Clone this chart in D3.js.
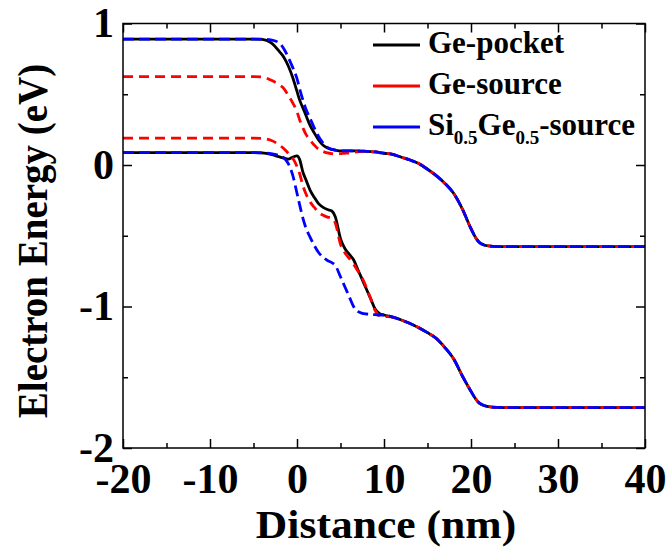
<!DOCTYPE html>
<html><head><meta charset="utf-8">
<script src="https://cdn.jsdelivr.net/npm/d3@7"></script>
<style>html,body{margin:0;padding:0;background:#fff;}svg{display:block;}</style>
</head><body>
<svg id="chart" width="672" height="556"></svg>
<script>
// ---- data ----
const distance = [-20, -5, -4, -3, -2, -1.5, -1, -0.5, 0, 0.3, 0.7, 1, 1.5, 2, 2.5, 3, 3.5, 4, 4.4, 5, 5.5, 6, 6.5, 7, 7.5, 8, 8.5, 9, 9.5, 10, 11, 12, 13, 14, 15, 16, 17, 18, 19, 20, 20.5, 21, 21.5, 22, 23, 25, 40];

// conduction band (upper curves)
const pocketCB = [0.89, 0.89, 0.888, 0.865, 0.80, 0.76, 0.70, 0.62, 0.52, 0.46, 0.40, 0.355, 0.28, 0.225, 0.175, 0.14, 0.12, 0.11, 0.105, 0.10, 0.10, 0.10, 0.10, 0.099, 0.098, 0.097, 0.095, 0.092, 0.088, 0.083, 0.075, 0.055, 0.035, 0.01, -0.03, -0.075, -0.13, -0.20, -0.31, -0.45, -0.51, -0.55, -0.565, -0.572, -0.577, -0.577, -0.577];
const geSourceCB = [0.625, 0.625, 0.622, 0.60, 0.565, 0.54, 0.49, 0.44, 0.377, 0.32, 0.26, 0.22, 0.177, 0.14, 0.11, 0.095, 0.085, 0.08, 0.078, 0.08, 0.083, 0.085, 0.09, 0.093, 0.096, 0.097, 0.095, 0.092, 0.088, 0.083, 0.075, 0.055, 0.035, 0.01, -0.03, -0.075, -0.13, -0.20, -0.31, -0.45, -0.51, -0.55, -0.565, -0.572, -0.577, -0.577, -0.577];
const siGeSourceCB = [0.89, 0.89, 0.89, 0.885, 0.86, 0.82, 0.76, 0.69, 0.61, 0.54, 0.455, 0.40, 0.33, 0.26, 0.20, 0.155, 0.125, 0.11, 0.105, 0.10, 0.10, 0.10, 0.10, 0.099, 0.098, 0.097, 0.095, 0.092, 0.088, 0.083, 0.075, 0.055, 0.035, 0.01, -0.03, -0.075, -0.13, -0.20, -0.31, -0.45, -0.51, -0.55, -0.565, -0.572, -0.577, -0.577, -0.577];

// valence band (lower curves)
const pocketVB = [0.087, 0.087, 0.085, 0.075, 0.057, 0.048, 0.042, 0.055, 0.064, 0.04, -0.055, -0.10, -0.177, -0.23, -0.275, -0.30, -0.315, -0.325, -0.365, -0.52, -0.59, -0.63, -0.67, -0.74, -0.81, -0.88, -0.95, -1.02, -1.05, -1.06, -1.075, -1.095, -1.12, -1.15, -1.185, -1.225, -1.29, -1.37, -1.49, -1.60, -1.65, -1.685, -1.70, -1.708, -1.713, -1.715, -1.715];
const geSourceVB = [0.19, 0.19, 0.188, 0.175, 0.14, 0.115, 0.083, 0.05, -0.01, -0.06, -0.15, -0.20, -0.26, -0.30, -0.335, -0.355, -0.368, -0.377, -0.41, -0.56, -0.62, -0.66, -0.70, -0.75, -0.80, -0.87, -0.95, -1.03, -1.065, -1.07, -1.075, -1.095, -1.12, -1.15, -1.185, -1.225, -1.29, -1.37, -1.49, -1.60, -1.65, -1.685, -1.70, -1.708, -1.713, -1.715, -1.715];
const siGeSourceVB = [0.087, 0.087, 0.085, 0.08, 0.065, 0.05, 0.01, -0.07, -0.20, -0.28, -0.38, -0.44, -0.51, -0.57, -0.62, -0.65, -0.675, -0.69, -0.71, -0.79, -0.86, -0.93, -1.0, -1.035, -1.048, -1.053, -1.056, -1.058, -1.06, -1.06, -1.075, -1.095, -1.12, -1.15, -1.185, -1.225, -1.29, -1.37, -1.49, -1.60, -1.65, -1.685, -1.70, -1.708, -1.713, -1.715, -1.715];

const seriesNames = ["Ge-pocket", "Ge-source", "Si0.5Ge0.5-source"];
const seriesColors = ["#000000", "#ff0000", "#0000ff"];
const xTicks = [-20, -10, 0, 10, 20, 30, 40];
const yTicks = [-2, -1, 0, 1];
const xMinor = [-15, -5, 5, 15, 25, 35];
const yMinor = [-1.5, -0.5, 0.5];

// ---- layout ----
const L = 123, R = 645, T = 23.5, B = 448;
const svg = d3.select("#chart");
const x = d3.scaleLinear().domain([-20, 40]).range([L, R]);
const y = d3.scaleLinear().domain([-2, 1]).range([B, T]);
const font = "'Liberation Serif','Times New Roman',serif";

const line = d3.line().x(d => x(d[0])).y(d => y(d[1])).curve(d3.curveMonotoneX);
const pairs = vals => distance.map((d, i) => [d, vals[i]]);

const curves = [
  {v: pocketCB, c: 0, dash: null}, {v: pocketVB, c: 0, dash: null},
  {v: geSourceCB, c: 1, dash: "10,6"}, {v: geSourceVB, c: 1, dash: "10,6"},
  {v: siGeSourceCB, c: 2, dash: "11,5"}, {v: siGeSourceVB, c: 2, dash: "11,5"}
];
const plot = svg.append("g");
curves.forEach(cv => {
  plot.append("path").attr("d", line(pairs(cv.v)))
    .attr("fill", "none").attr("stroke", seriesColors[cv.c])
    .attr("stroke-width", 2.8)
    .attr("stroke-dasharray", cv.dash);
});

// frame & ticks (inward, mirrored)
svg.append("rect").attr("x", L).attr("y", T).attr("width", R - L).attr("height", B - T)
  .attr("fill", "none").attr("stroke", "#000").attr("stroke-width", 1.5);

const fmt = d => String(d);
const axB = d3.axisBottom(x).tickValues(xTicks).tickSizeInner(-9).tickSizeOuter(0).tickPadding(15).tickFormat(fmt);
const gB = svg.append("g").attr("transform", `translate(0,${B})`).call(axB);
const axT = d3.axisTop(x).tickValues(xTicks).tickSizeInner(-9).tickSizeOuter(0).tickFormat("");
const gT = svg.append("g").attr("transform", `translate(0,${T})`).call(axT);
const axBm = d3.axisBottom(x).tickValues(xMinor).tickSizeInner(-5).tickSizeOuter(0).tickFormat("");
const gBm = svg.append("g").attr("transform", `translate(0,${B})`).call(axBm);
const axTm = d3.axisTop(x).tickValues(xMinor).tickSizeInner(-5).tickSizeOuter(0).tickFormat("");
const gTm = svg.append("g").attr("transform", `translate(0,${T})`).call(axTm);

const axL = d3.axisLeft(y).tickValues(yTicks).tickSizeInner(-9).tickSizeOuter(0).tickPadding(9).tickFormat(fmt);
const gL = svg.append("g").attr("transform", `translate(${L},0)`).call(axL);
const axR = d3.axisRight(y).tickValues(yTicks).tickSizeInner(-9).tickSizeOuter(0).tickFormat("");
const gR = svg.append("g").attr("transform", `translate(${R},0)`).call(axR);
const axLm = d3.axisLeft(y).tickValues(yMinor).tickSizeInner(-5).tickSizeOuter(0).tickFormat("");
const gLm = svg.append("g").attr("transform", `translate(${L},0)`).call(axLm);
const axRm = d3.axisRight(y).tickValues(yMinor).tickSizeInner(-5).tickSizeOuter(0).tickFormat("");
const gRm = svg.append("g").attr("transform", `translate(${R},0)`).call(axRm);

[gB, gT, gBm, gTm, gL, gR, gLm, gRm].forEach(g => {
  g.select(".domain").remove();
  g.selectAll(".tick line").attr("stroke", "#000").attr("stroke-width", 1.5);
  g.selectAll(".tick text").attr("font-family", font).attr("font-weight", "bold")
    .attr("font-size", 42).attr("fill", "#000");
});

// axis titles
svg.append("g").attr("transform", "translate(386,538) scale(1.09,1)")
  .append("text").attr("text-anchor", "middle").attr("font-family", font).attr("font-weight", "bold")
  .attr("font-size", 40).text("Distance (nm)");
svg.append("g").attr("transform", "translate(47,241) scale(1.1,1) rotate(-90)")
  .append("text").attr("text-anchor", "middle").attr("font-family", font).attr("font-weight", "bold")
  .attr("font-size", 39).text("Electron Energy (eV)");

// legend
const lg = svg.append("g");
const rows = [45, 86, 127];
seriesNames.forEach((name, i) => {
  lg.append("line").attr("x1", 373).attr("x2", 420).attr("y1", rows[i]).attr("y2", rows[i])
    .attr("stroke", seriesColors[i]).attr("stroke-width", 2.8);
  const t = lg.append("text").attr("x", 428).attr("y", rows[i] + 8)
    .attr("font-family", font).attr("font-weight", "bold").attr("font-size", 31);
  if (i === 2) {
    t.append("tspan").text("Si");
    t.append("tspan").attr("font-size", 19).attr("dy", 9).text("0.5");
    t.append("tspan").attr("dy", -9).text("Ge");
    t.append("tspan").attr("font-size", 19).attr("dy", 9).text("0.5");
    t.append("tspan").attr("dy", -9).text("-source");
  } else {
    t.text(name);
  }
});
</script>
</body></html>
